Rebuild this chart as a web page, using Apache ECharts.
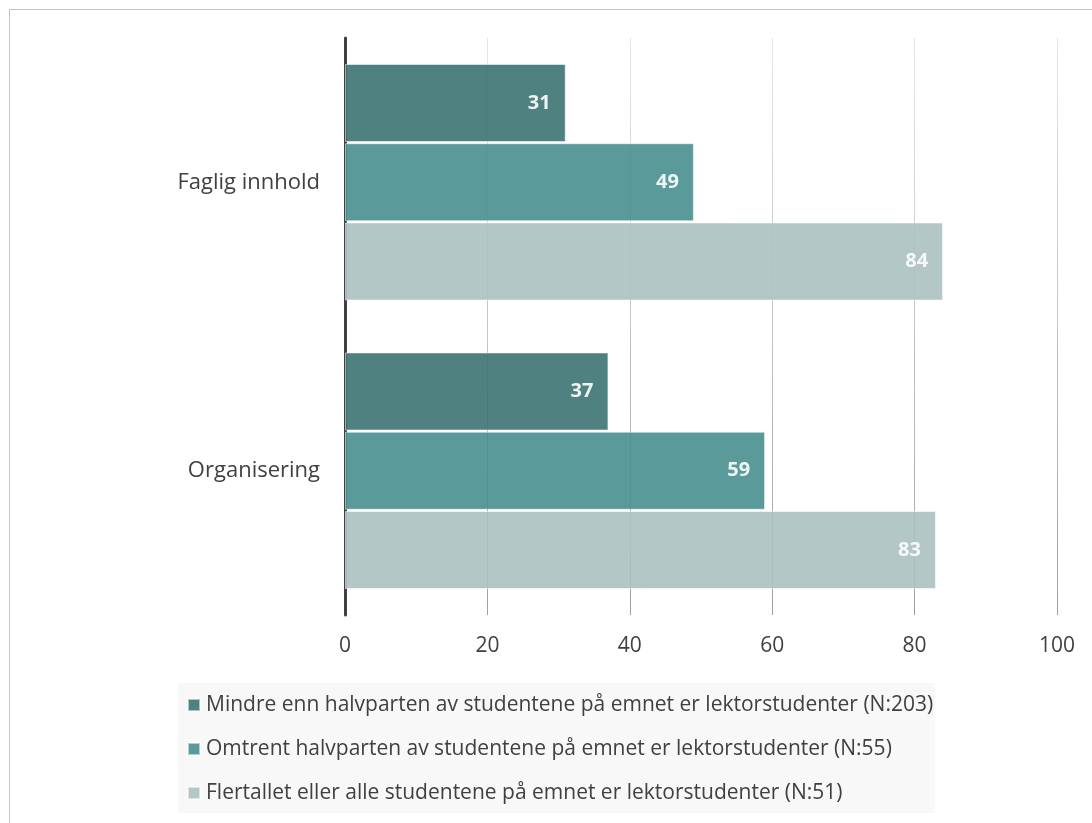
<!DOCTYPE html>
<html>
<head>
<meta charset="utf-8">
<script src="https://cdn.jsdelivr.net/npm/echarts@6/dist/echarts.min.js"></script>
<style>
  html, body { margin: 0; padding: 0; background: #fff; }
  #chart { width: 1092px; height: 823px; }
</style>
</head>
<body>
<div id="chart"></div>
<script>
const categories = ['Faglig innhold', 'Organisering'];
const seriesNames = [
  'Mindre enn halvparten av studentene på emnet er lektorstudenter (N:203)',
  'Omtrent halvparten av studentene på emnet er lektorstudenter (N:55)',
  'Flertallet eller alle studentene på emnet er lektorstudenter (N:51)'
];
const mindreValues = [31, 37];
const omtrentValues = [49, 59];
const flertalletValues = [84, 83];
const xTicks = [0, 20, 40, 60, 80, 100];

const seriesColors = ['rgb(59,115,114)', 'rgb(72,143,143)', 'rgb(171,193,192)'];
const textColor = '#404040';
const fontFamily = '"Open Sans", "Noto Sans", sans-serif';

const chart = echarts.init(document.getElementById('chart'));

const makeSeries = (name, data, color) => ({
  name,
  type: 'bar',
  data,
  barCategoryGap: '18%',
  barGap: '1.5%',
  itemStyle: {
    color,
    opacity: 0.9,
    borderColor: 'rgba(255,255,255,0.6)',
    borderWidth: 1
  },
  label: {
    show: true,
    position: 'insideRight',
    distance: 15,
    color: '#fff',
    fontWeight: 'bold',
    fontSize: 20,
    fontFamily
  }
});

chart.setOption({
  animation: false,
  graphic: [{
    type: 'rect',
    shape: { x: 9.5, y: 9.5, width: 1200, height: 1000 },
    style: { fill: 'none', stroke: '#c4c4c4', lineWidth: 1 },
    silent: true,
    z: -10
  }],
  grid: { left: 345, right: 35, top: 38, bottom: 208 },
  legend: {
    orient: 'vertical',
    left: 178,
    top: 683,
    padding: [10, 2, 8, 9],
    itemGap: 20,
    backgroundColor: '#f8f8f8',
    icon: 'rect',
    itemWidth: 12,
    itemHeight: 12,
    textStyle: { color: textColor, fontSize: 21, lineHeight: 24, fontFamily, padding: [0, 0, 0, 1] },
    data: seriesNames
  },
  xAxis: {
    type: 'value',
    min: xTicks[0],
    max: xTicks[xTicks.length - 1],
    interval: 20,
    axisLine: { show: false },
    axisTick: { show: false },
    axisLabel: { color: textColor, fontSize: 21, fontFamily, margin: 21 },
    splitLine: {
      lineStyle: {
        width: 1,
        color: {
          type: 'linear', x: 0, y: 38, x2: 0, y2: 615, global: true,
          colorStops: [
            { offset: 0, color: '#e6e6e6' },
            { offset: 1, color: '#a0a0a0' }
          ]
        }
      }
    }
  },
  yAxis: {
    type: 'category',
    inverse: true,
    data: categories,
    axisLine: { show: true, lineStyle: { color: '#404040', width: 3 } },
    axisTick: { show: false },
    axisLabel: { color: textColor, fontSize: 22, fontFamily, margin: 25 }
  },
  series: [
    makeSeries(seriesNames[0], mindreValues, seriesColors[0]),
    makeSeries(seriesNames[1], omtrentValues, seriesColors[1]),
    makeSeries(seriesNames[2], flertalletValues, seriesColors[2])
  ]
});
</script>
</body>
</html>
